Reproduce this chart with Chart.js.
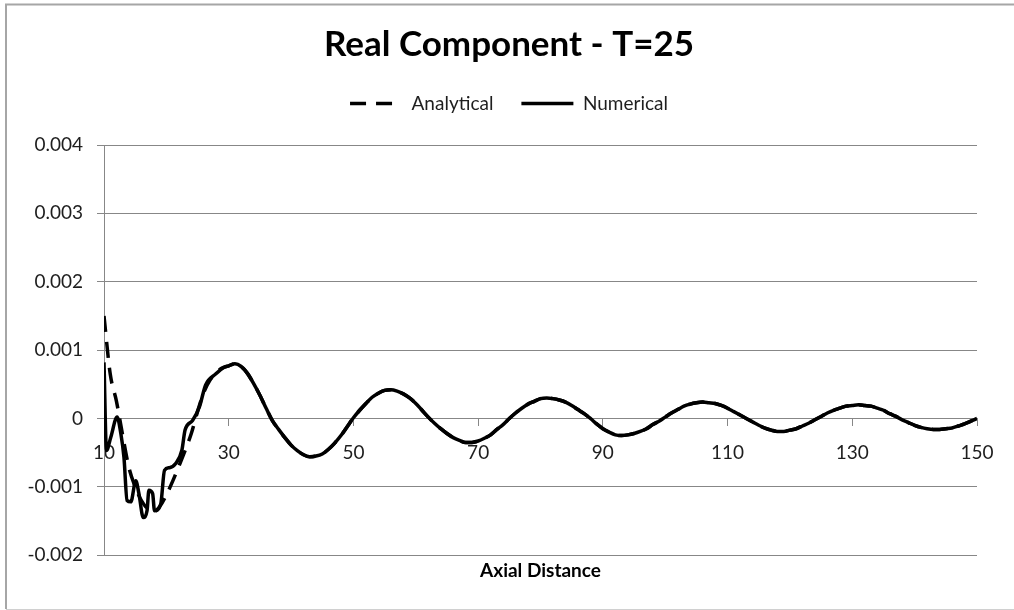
<!DOCTYPE html>
<html>
<head>
<meta charset="utf-8">
<title>Real Component - T=25</title>
<script src="https://cdn.jsdelivr.net/npm/chart.js@4"></script>
<style>
    html, body { margin: 0; padding: 0; background: #fff; }
    #wrap { width: 1014px; height: 610px; position: relative; }
</style>
</head>
<body>
<div id="wrap"><canvas id="chart"></canvas></div>
<script>
const analyticalX = [
    10, 11, 12, 13, 14, 15, 16, 17, 18, 19, 20, 21, 22, 23, 24, 25, 26, 27, 28, 29,
    30, 31, 32, 33, 34, 35, 36, 37, 38, 39, 40, 41, 42, 43, 44, 45, 46, 47, 48, 49,
    50, 51, 52, 53, 54, 55, 56, 57, 58, 59, 60, 61, 62, 63, 64, 65, 66, 67, 68, 69,
    70, 71, 72, 73, 74, 75, 76, 77, 78, 79, 80, 81, 82, 83, 84, 85, 86, 87, 88, 89,
    90, 91, 92, 93, 94, 95, 96, 97, 98, 99, 100, 101, 102, 103, 104, 105, 106, 107, 108, 109,
    110, 111, 112, 113, 114, 115, 116, 117, 118, 119, 120, 121, 122, 123, 124, 125, 126, 127, 128, 129,
    130, 131, 132, 133, 134, 135, 136, 137, 138, 139, 140, 141, 142, 143, 144, 145, 146, 147, 148, 149,
    150
];
const analyticalMilli = [
    1.50, 0.65, 0.25, -0.25, -0.72, -1.00, -1.20, -1.32, -1.36, -1.28, -1.12, -0.92, -0.70, -0.47, -0.22, 0.10, 0.38, 0.56, 0.67, 0.74,
    0.77, 0.80, 0.76, 0.66, 0.51, 0.34, 0.15, -0.03, -0.16, -0.28, -0.39, -0.47, -0.53, -0.56, -0.55, -0.52, -0.45, -0.36, -0.25, -0.12,
    0.01, 0.12, 0.22, 0.31, 0.37, 0.41, 0.42, 0.40, 0.36, 0.30, 0.22, 0.12, 0.02, -0.07, -0.15, -0.22, -0.28, -0.32, -0.35, -0.35,
    -0.33, -0.29, -0.24, -0.16, -0.09, 0.00, 0.08, 0.15, 0.21, 0.25, 0.29, 0.30, 0.29, 0.27, 0.24, 0.19, 0.13, 0.07, 0.00, -0.08,
    -0.15, -0.20, -0.24, -0.25, -0.24, -0.22, -0.19, -0.15, -0.09, -0.04, 0.02, 0.08, 0.13, 0.18, 0.21, 0.23, 0.24, 0.23, 0.22, 0.19,
    0.15, 0.10, 0.05, 0.00, -0.05, -0.10, -0.14, -0.17, -0.19, -0.19, -0.17, -0.15, -0.11, -0.07, -0.02, 0.03, 0.08, 0.12, 0.15, 0.18,
    0.19, 0.20, 0.19, 0.18, 0.15, 0.12, 0.07, 0.03, -0.02, -0.06, -0.10, -0.13, -0.15, -0.16, -0.16, -0.15, -0.14, -0.11, -0.08, -0.04,
    0.00
];

// the numerical run is noisy near the source, then sits on the analytical curve
const numericalStartX = [
    10, 10.4, 11.1, 12.1, 12.7, 13.2, 13.7, 14.3, 15.1, 15.6, 16.3, 16.9, 17.2, 17.8,
    18.1, 19.1, 19.7, 20.5, 21.5, 22.5, 23.0, 24.2, 25.3, 26.3, 27.9, 29.3
];
const numericalStartMilli = [
    0.82, -0.47, -0.27, 0.02, -0.22, -0.57, -1.20, -1.22, -0.91, -1.10, -1.45, -1.35, -1.05, -1.10,
    -1.35, -1.25, -0.76, -0.72, -0.66, -0.46, -0.17, -0.03, 0.17, 0.49, 0.65, 0.75
];

const xTicks = [10, 30, 50, 70, 90, 110, 130, 150];
const yTicks = [-0.002, -0.001, 0, 0.001, 0.002, 0.003, 0.004];
const yTickLabels = ["-0.002", "-0.001", "0", "0.001", "0.002", "0.003", "0.004"];

function buildPoints() {
    const analytical = analyticalX.map((x, i) => ({ x: x, y: analyticalMilli[i] / 1000 }));

    const numerical = numericalStartX.map((x, i) => ({ x: x, y: numericalStartMilli[i] / 1000 }));
    analytical.forEach(p => {
        if (p.x >= 30) numerical.push(p);
    });

    return { analytical, numerical };
}

// grey frame round the chart, like the spreadsheet chart area
const framePlugin = {
    id: "frame",
    beforeDraw(chart) {
        const ctx = chart.ctx;
        ctx.save();
        ctx.fillStyle = "#ffffff";
        ctx.fillRect(0, 0, chart.width, chart.height);
        ctx.strokeStyle = "#a6a6a6";
        ctx.lineWidth = 2;
        ctx.beginPath();
        ctx.moveTo(chart.width + 2, 4.5);
        ctx.lineTo(6, 4.5);
        ctx.lineTo(6, 609);
        ctx.stroke();
        ctx.strokeStyle = "#d0d0d0";
        ctx.lineWidth = 1;
        ctx.beginPath();
        ctx.moveTo(6, 609.5);
        ctx.lineTo(chart.width, 609.5);
        ctx.stroke();
        ctx.restore();
    }
};

// legend samples need the dash and width of their own dataset
function legendLabels(chart) {
    const items = Chart.defaults.plugins.legend.labels.generateLabels(chart);
    items.forEach(item => {
        const ds = chart.data.datasets[item.datasetIndex];
        item.lineDash = ds.borderDash || [];
        item.lineWidth = ds.borderWidth;
        item.strokeStyle = ds.borderColor;
        item.lineCap = "butt";
    });
    return items;
}

function renderChart() {
    const ctx = document.getElementById("chart");
    const { analytical, numerical } = buildPoints();
    const gridColor = "#878787";
    const textColor = "#1e1e1e";

    Chart.defaults.font.family = "Lato";
    Chart.defaults.color = textColor;

    new Chart(ctx, {
        type: "line",
        data: {
            datasets: [
                {
                    label: "Analytical",
                    data: analytical,
                    xAxisID: "x",
                    yAxisID: "y",
                    borderColor: "#000000",
                    backgroundColor: "#000000",
                    borderWidth: 3.5,
                    borderDash: [16, 10],
                    pointRadius: 0,
                    cubicInterpolationMode: "monotone",
                    fill: false
                },
                {
                    label: "Numerical",
                    data: numerical,
                    xAxisID: "x",
                    yAxisID: "y",
                    borderColor: "#000000",
                    backgroundColor: "#000000",
                    borderWidth: 3.5,
                    pointRadius: 0,
                    cubicInterpolationMode: "monotone",
                    fill: false
                }
            ]
        },
        options: {
            responsive: true,
            maintainAspectRatio: false,
            animation: false,
            layout: {
                padding: { left: 23, right: 19, top: 0, bottom: 0 }
            },
            scales: {
                x: {
                    type: "linear",
                    min: 10,
                    max: 150,
                    position: { y: 0 },
                    afterBuildTicks: scale => {
                        scale.ticks = xTicks.map(v => ({ value: v }));
                    },
                    ticks: {
                        font: { size: 19 },
                        color: textColor,
                        padding: 16,
                        maxRotation: 0,
                        autoSkip: false
                    },
                    grid: {
                        drawOnChartArea: false,
                        drawTicks: true,
                        tickLength: 7,
                        color: gridColor
                    },
                    border: { display: true, color: gridColor }
                },
                gapTop: {
                    type: "linear",
                    axis: "x",
                    position: "top",
                    min: 0,
                    max: 1,
                    ticks: { display: false },
                    grid: { display: false },
                    border: { display: false },
                    afterFit: scale => {
                        scale.height = 22;
                    }
                },
                gapRight: {
                    type: "linear",
                    axis: "y",
                    position: "right",
                    min: 0,
                    max: 1,
                    ticks: { display: false },
                    grid: { display: false },
                    border: { display: false },
                    afterFit: scale => {
                        scale.width = 18;
                    }
                },
                y: {
                    min: -0.002,
                    max: 0.004,
                    afterBuildTicks: scale => {
                        scale.ticks = yTicks.map(v => ({ value: v }));
                    },
                    afterFit: scale => {
                        scale.width = 81;
                    },
                    ticks: {
                        font: { size: 19 },
                        color: textColor,
                        padding: 14,
                        callback: (value, index) => yTickLabels[index]
                    },
                    grid: {
                        color: gridColor,
                        tickLength: 7
                    },
                    border: { color: gridColor }
                }
            },
            plugins: {
                title: {
                    display: true,
                    text: "Real Component - T=25",
                    color: "#000000",
                    font: { size: 35, weight: "bold" },
                    padding: { top: 24, bottom: 0 }
                },
                subtitle: {
                    display: true,
                    position: "bottom",
                    fullSize: false,
                    text: "Axial Distance",
                    color: "#000000",
                    font: { size: 19, weight: "bold" },
                    padding: { top: 4, bottom: 28 }
                },
                legend: {
                    position: "top",
                    labels: {
                        usePointStyle: true,
                        pointStyle: "line",
                        pointStyleWidth: 52,
                        padding: 28,
                        color: textColor,
                        font: { size: 19 },
                        generateLabels: legendLabels
                    }
                },
                tooltip: { enabled: false }
            }
        },
        plugins: [framePlugin]
    });
}

renderChart();
</script>
</body>
</html>
